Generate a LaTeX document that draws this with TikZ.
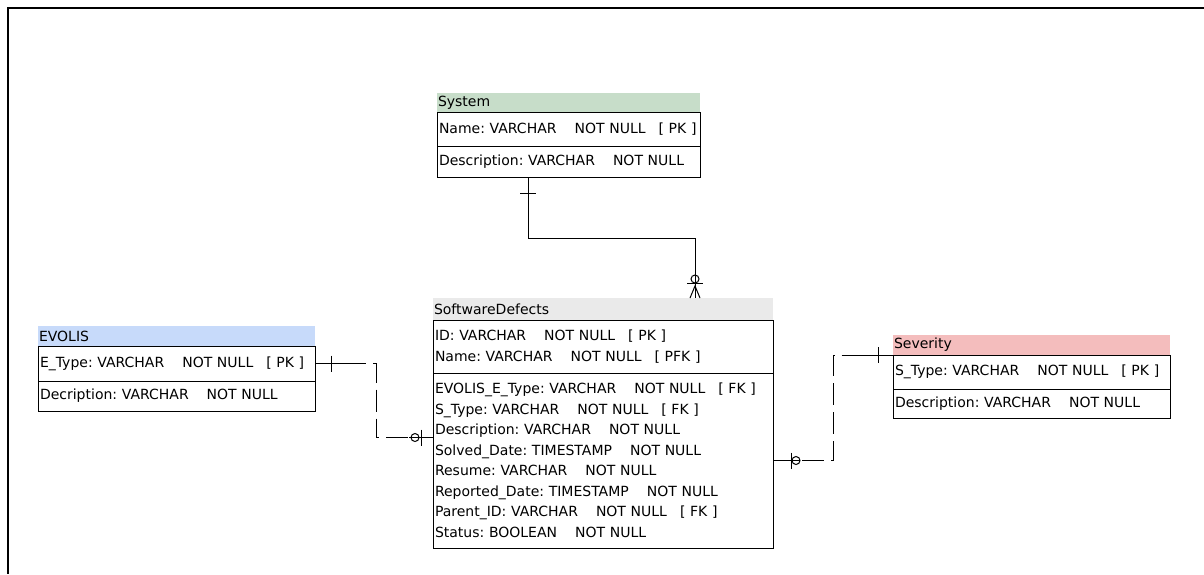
\documentclass[tikz,border=0pt]{standalone}
\usepackage{fontspec}
\setmainfont{DejaVu Sans}
\frenchspacing

\definecolor{sysgreen}{RGB}{199,221,201}
\definecolor{evoblue}{RGB}{199,218,250}
\definecolor{sevpink}{RGB}{244,189,189}
\definecolor{defgrey}{RGB}{234,234,234}

\newcommand\tg{\hspace{18pt}}
\newcommand\kg{\hspace{13pt}}

\begin{document}
\begin{tikzpicture}[x=1pt, y=-1pt, line width=1pt,
  font=\fontsize{14}{20.5}\selectfont,
  head/.style={fill=#1, anchor=north west, align=left, inner xsep=1pt, inner ysep=0pt, outer sep=0pt},
  sect/.style={draw, anchor=north west, align=left, inner xsep=2pt, inner ysep=0pt, outer sep=0pt},
  rel/.style={dash pattern=on 22pt off 7pt}]
\useasboundingbox (0,0) rectangle (1204,574);
\draw[line width=2pt] (1204,8) -- (8,8) -- (8,574);

% System
\node[head=sysgreen, text width=261pt, minimum height=19pt] (sysHead) at (437,93) {System};
\node[sect, text width=259pt, minimum height=34pt] (sysKeys) at (sysHead.south west) {Name: VARCHAR\tg NOT NULL\kg [ PK ]};
\node[sect, text width=259pt, minimum height=31pt] (sysAttr) at (sysKeys.south west) {Description: VARCHAR\tg NOT NULL};

% SoftwareDefects
\node[head=defgrey, text width=338pt, minimum height=22pt] (defHead) at (433,298) {SoftwareDefects};
\node[sect, text width=336pt, minimum height=53pt] (defKeys) at (defHead.south west) {ID: VARCHAR\tg NOT NULL\kg [ PK ]\\Name: VARCHAR\tg NOT NULL\kg [ PFK ]};
\node[sect, text width=336pt, minimum height=175pt] (defAttr) at (defKeys.south west) {EVOLIS\_E\_Type: VARCHAR\tg NOT NULL\kg [ FK ]\\
S\_Type: VARCHAR\tg NOT NULL\kg [ FK ]\\
Description: VARCHAR\tg NOT NULL\\
Solved\_Date: TIMESTAMP\tg NOT NULL\\
Resume: VARCHAR\tg NOT NULL\\
Reported\_Date: TIMESTAMP\tg NOT NULL\\
Parent\_ID: VARCHAR\tg NOT NULL\kg [ FK ]\\
Status: BOOLEAN\tg NOT NULL};

% EVOLIS
\node[head=evoblue, text width=275pt, minimum height=20pt] (evoHead) at (38,326) {EVOLIS};
\node[sect, text width=273pt, minimum height=35pt] (evoKeys) at (evoHead.south west) {E\_Type: VARCHAR\tg NOT NULL\kg [ PK ]};
\node[sect, text width=273pt, minimum height=30pt] (evoAttr) at (evoKeys.south west) {Decription: VARCHAR\tg NOT NULL};

% Severity
\node[head=sevpink, text width=275pt, minimum height=20pt] (sevHead) at (893,335) {Severity};
\node[sect, text width=273pt, minimum height=34pt] (sevKeys) at (sevHead.south west) {S\_Type: VARCHAR\tg NOT NULL\kg [ PK ]};
\node[sect, text width=273pt, minimum height=29pt] (sevAttr) at (sevKeys.south west) {Description: VARCHAR\tg NOT NULL};

% System -- SoftwareDefects
\draw ([xshift=91pt]sysAttr.south west) -- ++(0,61) -| ([xshift=262pt]defHead.north west);
\draw ([xshift=91pt]sysAttr.south west) ++(-8,16) -- ++(16,0);
\draw ([xshift=262pt]defHead.north west) ++(0,-19) circle[radius=4pt];
\draw ([xshift=262pt]defHead.north west) ++(-8,-15) -- ++(16,0);
\draw ([xshift=262pt]defHead.north west) ++(-5,0) -- ++(5,-12) -- ++(5,12);

% EVOLIS -- SoftwareDefects
\draw[rel] (evoKeys.east) -- ++(61,0) |- ([yshift=23pt]defAttr.west);
\draw (evoKeys.east) -- ++(51,0);
\draw (evoKeys.east) ++(16,-8) -- ++(0,16);
\draw ([yshift=23pt]defAttr.west) -- ++(-24,0);
\draw ([yshift=23pt]defAttr.west) ++(-12,-8) -- ++(0,16);
\draw ([yshift=23pt]defAttr.west) ++(-18,0) circle[radius=4pt];

% Severity -- SoftwareDefects
\draw[rel] (defAttr.east) -- ++(60,0) |- (sevHead.south west);
\draw (defAttr.east) -- ++(27,0);
\draw (defAttr.east) ++(18,-8) -- ++(0,16);
\draw (defAttr.east) ++(23,0) circle[radius=4pt];
\draw (sevHead.south west) -- ++(-51,0);
\draw (sevHead.south west) ++(-15,-8) -- ++(0,16);
\end{tikzpicture}
\end{document}
